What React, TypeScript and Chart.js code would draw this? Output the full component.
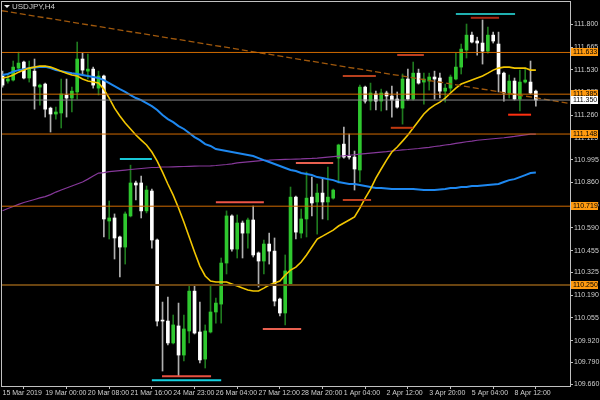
import React, { useEffect, useRef } from "react";
import { Chart, registerables } from "chart.js";
Chart.register(...registerables);

// ---- data ----
const symbolTitle = "USDJPY,H4";
const xTickBars = [0, 8, 16, 24, 32, 40, 48, 56, 64, 72, 80, 88, 96];
const xTickLabels = [
  "15 Mar 2019", "19 Mar 00:00", "20 Mar 08:00", "21 Mar 16:00", "24 Mar 23:00",
  "26 Mar 04:00", "27 Mar 12:00", "28 Mar 20:00", "1 Apr 04:00", "2 Apr 12:00",
  "3 Apr 20:00", "5 Apr 04:00", "8 Apr 12:00",
];
const yTickValues = [
  111.8, 111.665, 111.53, 111.395, 111.26, 111.125, 110.995, 110.86, 110.725,
  110.59, 110.455, 110.325, 110.19, 110.055, 109.92, 109.79, 109.66,
];

const openP = [
  111.493, 111.463, 111.469, 111.540, 111.576, 111.481, 111.522, 111.427, 111.445, 111.302,
  111.267, 111.273, 111.380, 111.362, 111.398, 111.594, 111.522, 111.534, 111.421, 111.493,
  110.631, 110.649, 110.536, 110.476, 110.661, 110.857, 110.857, 110.691, 110.809, 110.518,
  110.042, 110.036, 109.906, 110.007, 109.834, 109.977, 110.214, 109.971, 109.810, 109.971,
  110.090, 110.137, 110.381, 110.661, 110.464, 110.619, 110.559, 110.637, 110.441, 110.393,
  110.494, 110.452, 110.167, 110.084, 110.256, 110.773, 110.559, 110.643, 110.773, 110.744,
  110.797, 110.744, 110.767, 111.005, 111.088, 111.017, 111.011, 110.934, 111.427, 111.344,
  111.386, 111.344, 111.392, 111.374, 111.356, 111.302, 111.475, 111.356, 111.510, 111.457,
  111.463, 111.487, 111.481, 111.403, 111.421, 111.475, 111.546, 111.647, 111.736, 111.701,
  111.689, 111.641, 111.736, 111.683, 111.510, 111.392, 111.463, 111.356, 111.457, 111.457,
  111.403,
];
const highP = [
  111.522, 111.499, 111.582, 111.635, 111.582, 111.582, 111.594, 111.445, 111.451, 111.308,
  111.308, 111.475, 111.475, 111.427, 111.695, 111.629, 111.623, 111.546, 111.522, 111.499,
  110.750, 110.673, 110.542, 110.685, 110.963, 110.869, 110.898, 110.839, 110.821, 110.524,
  110.149, 110.179, 110.072, 110.143, 110.072, 110.244, 110.244, 110.149, 110.013, 110.244,
  110.173, 110.411, 110.691, 110.667, 110.667, 110.631, 110.649, 110.720, 110.447, 110.518,
  110.559, 110.530, 110.173, 110.429, 110.833, 110.779, 110.702, 110.922, 110.892, 110.851,
  110.886, 110.952, 110.821, 111.088, 111.190, 111.148, 111.047, 111.439, 111.433, 111.451,
  111.403, 111.415, 111.403, 111.433, 111.398, 111.505, 111.534, 111.576, 111.534, 111.510,
  111.510, 111.522, 111.510, 111.445, 111.499, 111.629, 111.683, 111.802, 111.754, 111.724,
  111.826, 111.784, 111.754, 111.754, 111.516, 111.499, 111.481, 111.528, 111.540, 111.582,
  111.409,
];
const lowP = [
  111.427, 111.451, 111.463, 111.528, 111.475, 111.457, 111.296, 111.320, 111.249, 111.160,
  111.237, 111.184, 111.249, 111.279, 111.356, 111.499, 111.475, 111.421, 111.380, 110.536,
  110.524, 110.405, 110.298, 110.375, 110.655, 110.756, 110.649, 110.679, 110.470, 110.007,
  109.739, 109.894, 109.900, 109.709, 109.799, 109.906, 109.959, 109.787, 109.757, 109.965,
  110.024, 110.024, 110.316, 110.452, 110.411, 110.411, 110.470, 110.417, 110.238, 110.316,
  110.375, 110.126, 110.066, 110.013, 110.250, 110.524, 110.530, 110.536, 110.661, 110.553,
  110.643, 110.637, 110.761, 110.857, 111.005, 110.999, 110.815, 110.863, 111.332, 111.291,
  111.291, 111.285, 111.291, 111.249, 111.302, 111.207, 111.350, 111.350, 111.445, 111.326,
  111.409, 111.356, 111.362, 111.338, 111.398, 111.469, 111.505, 111.600, 111.689, 111.617,
  111.564, 111.629, 111.689, 111.398, 111.344, 111.362, 111.350, 111.285, 111.451, 111.386,
  111.314,
];
const closeP = [
  111.439, 111.475, 111.546, 111.570, 111.481, 111.534, 111.433, 111.439, 111.296, 111.267,
  111.279, 111.386, 111.362, 111.403, 111.594, 111.528, 111.534, 111.439, 111.493, 110.643,
  110.649, 110.530, 110.476, 110.673, 110.857, 110.845, 110.691, 110.815, 110.518, 110.036,
  110.036, 109.906, 110.013, 109.834, 109.989, 110.214, 109.965, 109.805, 109.977, 110.090,
  110.143, 110.381, 110.661, 110.464, 110.619, 110.559, 110.637, 110.429, 110.393, 110.494,
  110.452, 110.155, 110.084, 110.334, 110.773, 110.565, 110.643, 110.767, 110.738, 110.797,
  110.744, 110.773, 110.815, 111.083, 111.011, 111.011, 110.940, 111.427, 111.344, 111.392,
  111.344, 111.392, 111.374, 111.350, 111.308, 111.475, 111.356, 111.510, 111.451, 111.475,
  111.487, 111.475, 111.403, 111.421, 111.487, 111.546, 111.653, 111.736, 111.695, 111.689,
  111.641, 111.736, 111.701, 111.505, 111.392, 111.463, 111.356, 111.457, 111.469, 111.392,
  111.350,
];

const maFast = [
  111.481, 111.487, 111.499, 111.516, 111.528, 111.540, 111.546, 111.552, 111.552, 111.546,
  111.534, 111.522, 111.510, 111.499, 111.493, 111.475, 111.463, 111.457, 111.451, 111.415,
  111.362, 111.302, 111.255, 111.213, 111.178, 111.142, 111.112, 111.083, 111.041, 110.987,
  110.922, 110.851, 110.785, 110.708, 110.625, 110.536, 110.447, 110.363, 110.304, 110.274,
  110.268, 110.268, 110.268, 110.256, 110.244, 110.232, 110.221, 110.215, 110.215, 110.232,
  110.250, 110.262, 110.274, 110.310, 110.339, 110.357, 110.387, 110.429, 110.476, 110.524,
  110.541, 110.559, 110.577, 110.601, 110.619, 110.637, 110.655, 110.708, 110.767, 110.821,
  110.886, 110.940, 110.993, 111.041, 111.071, 111.106, 111.142, 111.184, 111.225, 111.267,
  111.297, 111.320, 111.338, 111.362, 111.392, 111.421, 111.445, 111.457, 111.469, 111.481,
  111.493, 111.510, 111.528, 111.540, 111.546, 111.546, 111.540, 111.540, 111.540, 111.528,
  111.528,
];
const maMid = [
  111.499, 111.505, 111.519, 111.528, 111.534, 111.540, 111.543, 111.546, 111.548, 111.540,
  111.528, 111.522, 111.516, 111.510, 111.505, 111.499, 111.493, 111.487, 111.481, 111.469,
  111.451, 111.433, 111.415, 111.398, 111.380, 111.362, 111.350, 111.332, 111.314, 111.291,
  111.261, 111.237, 111.219, 111.195, 111.178, 111.154, 111.130, 111.112, 111.088, 111.077,
  111.059, 111.053, 111.047, 111.041, 111.035, 111.029, 111.023, 111.017, 111.005, 110.993,
  110.982, 110.970, 110.958, 110.946, 110.934, 110.928, 110.916, 110.910, 110.904, 110.892,
  110.886, 110.880, 110.874, 110.863, 110.857, 110.851, 110.851, 110.845, 110.839, 110.833,
  110.827, 110.827, 110.824, 110.821, 110.821, 110.821, 110.821, 110.821, 110.818, 110.815,
  110.815, 110.815, 110.818, 110.821, 110.827, 110.827, 110.833, 110.833, 110.839, 110.839,
  110.842, 110.845, 110.848, 110.851, 110.863, 110.874, 110.880, 110.892, 110.904, 110.916,
  110.919,
];
const maSlow = [
  110.692, 110.705, 110.717, 110.730, 110.741, 110.750, 110.759, 110.768, 110.776, 110.788,
  110.803, 110.815, 110.827, 110.839, 110.851, 110.863, 110.880, 110.898, 110.916, 110.919,
  110.924, 110.928, 110.931, 110.934, 110.937, 110.940, 110.943, 110.946, 110.949, 110.950,
  110.952, 110.952, 110.953, 110.954, 110.955, 110.956, 110.957, 110.958, 110.958, 110.959,
  110.961, 110.964, 110.967, 110.971, 110.976, 110.980, 110.983, 110.986, 110.989, 110.992,
  110.993, 110.995, 110.996, 110.997, 110.998, 110.999, 111.000, 111.002, 111.003, 111.005,
  111.008, 111.011, 111.014, 111.017, 111.019, 111.022, 111.025, 111.028, 111.031, 111.034,
  111.037, 111.040, 111.043, 111.047, 111.050, 111.054, 111.056, 111.059, 111.062, 111.066,
  111.069, 111.074, 111.078, 111.083, 111.087, 111.092, 111.097, 111.102, 111.106, 111.111,
  111.114, 111.117, 111.120, 111.123, 111.126, 111.130, 111.134, 111.139, 111.143, 111.147,
  111.148,
];

const levelPrices = [111.633, 111.385, 111.148, 110.719, 110.25];
const currentPrice = 111.35;
const trendFrom = { bar: -0.1, price: 111.881 };
const trendTo = { bar: 106.4, price: 111.33 };

const segFrom = [22, 28, 29.9, 40, 48.8, 55, 63.8, 63.8, 72.8, 74, 85, 87.8, 94.8];
const segTo = [28, 41, 39.1, 49, 56, 62, 69.1, 70, 77, 79, 96.1, 93.1, 99.1];
const segPrice = [110.999, 109.684, 109.708, 110.742, 109.989, 110.976, 110.756, 111.493, 111.185, 111.618, 111.861, 111.839, 111.263];

// ---- styles ----
const SEG_COLORS = ["#18c8d8", "#14d2e0", "#e85040", "#ee5548", "#e86050", "#e86050", "#c04020", "#b8401e", "#c03a10", "#c04020", "#20b0b0", "#a82a14", "#ff3010"];
const LEVEL_COLORS = ["#d06a00", "#d06a00", "#d06a00", "#d06a00", "#6a4410"];
const LEVEL_WIDTHS = [1, 1, 1, 1, 2];
const FONT = "'Liberation Sans Narrow', 'Liberation Sans', sans-serif";
const X_MIN = -0.1;
const X_MAX = 106.4;

export default function App() {
  const ref = useRef<HTMLCanvasElement>(null);

  useEffect(() => {
    document.body.style.margin = "0";
    document.body.style.background = "#000";
    const canvas = ref.current!;
    const bars = openP.map((_, i) => i);
    const up = (i: number) => closeP[i] > openP[i];

    const datasets: any[] = [];
    let ord = 0;
    segPrice.forEach((p, k) => {
      datasets.push({
        type: "line",
        data: [{ x: segFrom[k], y: p }, { x: segTo[k], y: p }],
        borderColor: SEG_COLORS[k],
        borderWidth: 2,
        pointRadius: 0,
        order: ord,
      });
    });
    ord++;
    datasets.push({
      type: "line",
      data: [{ x: X_MIN, y: currentPrice }, { x: X_MAX, y: currentPrice }],
      borderColor: "#8a8a8a",
      borderWidth: 1,
      pointRadius: 0,
      order: ord,
    });
    levelPrices.forEach((p, k) => {
      datasets.push({
        type: "line",
        data: [{ x: X_MIN, y: p }, { x: X_MAX, y: p }],
        borderColor: LEVEL_COLORS[k],
        borderWidth: LEVEL_WIDTHS[k],
        pointRadius: 0,
        order: ord,
      });
    });
    datasets.push({
      type: "line",
      data: [{ x: trendFrom.bar, y: trendFrom.price }, { x: trendTo.bar, y: trendTo.price }],
      borderColor: "#a0580c",
      borderWidth: 1.3,
      borderDash: [6, 3],
      pointRadius: 0,
      order: ord,
    });
    ord++;
    datasets.push({
      type: "line",
      data: bars.map((i) => ({ x: i, y: maFast[i] })),
      borderColor: "#f2c600",
      borderWidth: 1.6,
      pointRadius: 0,
      order: ord,
    });
    datasets.push({
      type: "line",
      data: bars.map((i) => ({ x: i, y: maMid[i] })),
      borderColor: "#1e88f0",
      borderWidth: 2,
      pointRadius: 0,
      order: ord,
    });
    datasets.push({
      type: "line",
      data: bars.map((i) => ({ x: i, y: maSlow[i] })),
      borderColor: "#86389a",
      borderWidth: 1.2,
      pointRadius: 0,
      order: ord,
    });
    ord++;
    datasets.push({
      type: "bar",
      data: bars.map((i) => ({ x: i, y: [openP[i], closeP[i]] })),
      backgroundColor: bars.map((i) => (up(i) ? "#2fc82f" : "#ffffff")),
      borderWidth: 0,
      barThickness: 3,
      minBarLength: 1,
      grouped: false,
      order: ord,
    });
    ord++;
    datasets.push({
      type: "bar",
      data: bars.map((i) => ({ x: i, y: [lowP[i], highP[i]] })),
      backgroundColor: bars.map((i) => (up(i) ? "#1f7a1f" : "#b0b0b0")),
      borderWidth: 0,
      barThickness: 1,
      grouped: false,
      order: ord,
    });

    const overlay = {
      id: "mtOverlay",
      afterDraw(chart: any) {
        const c = chart.ctx;
        const a = chart.chartArea;
        const ys = chart.scales.y;
        c.save();
        c.strokeStyle = "#c0c0c0";
        c.lineWidth = 1;
        c.strokeRect(a.left - 0.5, a.top - 0.5, a.right - a.left + 1, a.bottom - a.top + 1);
        c.font = `7px ${FONT}`;
        c.textBaseline = "middle";
        c.textAlign = "left";
        const box = (p: number, bg: string) => {
          const y = Math.round(ys.getPixelForValue(p));
          c.fillStyle = bg;
          c.fillRect(a.right + 1, y - 4, 27, 8);
          c.fillStyle = "#000";
          c.fillText(p.toFixed(3), a.right + 3, y + 0.5);
        };
        levelPrices.forEach((p) => box(p, "#ff9a10"));
        box(currentPrice, "#ffffff");
        c.fillStyle = "#e8e8e8";
        c.beginPath();
        c.moveTo(4, 5);
        c.lineTo(10, 5);
        c.lineTo(7, 8);
        c.closePath();
        c.fill();
        c.fillStyle = "#d0d0d0";
        c.font = `8px ${FONT}`;
        c.fillText(symbolTitle, 12, 7);
        c.restore();
      },
    };

    const chart = new Chart(canvas, {
      type: "bar",
      data: { datasets },
      plugins: [overlay],
      options: {
        responsive: false,
        animation: false,
        devicePixelRatio: 1,
        layout: { padding: { left: 2, top: 2, right: 0, bottom: 0 }, autoPadding: false },
        plugins: { legend: { display: false }, tooltip: { enabled: false } },
        scales: {
          x: {
            type: "linear",
            min: X_MIN,
            max: X_MAX,
            offset: false,
            grid: { drawOnChartArea: false, drawTicks: true, tickLength: 3, color: "#c0c0c0" },
            border: { display: false },
            ticks: {
              align: "start",
              autoSkip: false,
              maxRotation: 0,
              color: "#cfcfcf",
              padding: 0,
              font: { size: 7, family: FONT },
              callback: (_v: any, i: number) => xTickLabels[i],
            },
            afterBuildTicks: (s: any) => {
              s.ticks = xTickBars.map((v) => ({ value: v }));
            },
            afterFit: (s: any) => {
              s.height = 14;
              s.paddingLeft = 0;
              s.paddingRight = 0;
            },
          },
          y: {
            type: "linear",
            position: "right",
            min: 109.65,
            max: 111.933,
            grid: { drawOnChartArea: false, drawTicks: true, tickLength: 3, color: "#c0c0c0" },
            border: { display: false },
            ticks: {
              autoSkip: false,
              color: "#cfcfcf",
              padding: 1,
              font: { size: 7, family: FONT },
              callback: (v: any) => Number(v).toFixed(3),
            },
            afterBuildTicks: (s: any) => {
              s.ticks = yTickValues.map((v) => ({ value: v }));
            },
            afterFit: (s: any) => {
              s.width = 30;
              s.paddingTop = 0;
              s.paddingBottom = 0;
            },
          },
        },
      } as any,
    });
    return () => chart.destroy();
  }, []);

  return (
    <div style={{ position: "fixed", left: 0, top: 0, width: 600, height: 400, background: "#000" }}>
      <canvas ref={ref} width={600} height={400} style={{ display: "block", width: 600, height: 400 }} />
    </div>
  );
}
